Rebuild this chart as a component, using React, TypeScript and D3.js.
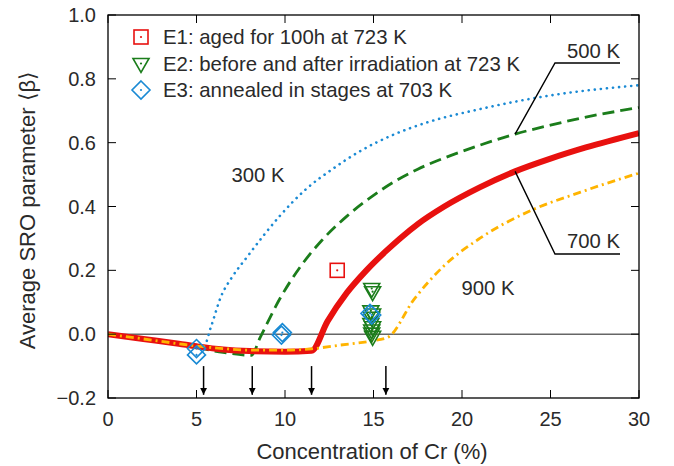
import React, { useEffect, useRef } from 'react'
import * as d3 from 'd3'

// curves: [Cr %, <beta>]
const curve300 = [[0, 0], [2, -0.014], [4, -0.03], [5.4, -0.04], [5.8, 0.02], [6.4, 0.12], [7, 0.178], [7.9, 0.245], [8.8, 0.31], [9.7, 0.37], [11.2, 0.455], [12.7, 0.518], [14.2, 0.572], [16, 0.622], [18, 0.663], [21, 0.705], [25, 0.748], [30, 0.78]]
const curve500 = [[0, 0], [2, -0.015], [4, -0.032], [5, -0.042], [6.5, -0.057], [8.1, -0.066], [8.6, -0.01], [9.7, 0.11], [10.85, 0.21], [12.1, 0.295], [13.5, 0.37], [15, 0.435], [16.3, 0.482], [17.5, 0.517], [19, 0.552], [21, 0.592], [23, 0.627], [25, 0.655], [27, 0.68], [30, 0.71]]
const curve700 = [[0, 0], [2, -0.015], [4, -0.03], [5, -0.038], [6.5, -0.048], [8, -0.053], [10, -0.055], [11.5, -0.052], [12.4, 0.04], [13.5, 0.13], [14.6, 0.2], [15.7, 0.26], [16.5, 0.3], [17.5, 0.345], [19, 0.4], [21, 0.46], [23, 0.51], [25, 0.55], [27, 0.585], [30, 0.63]]
const curve900 = [[0, 0], [2, -0.015], [4, -0.03], [5, -0.037], [6.5, -0.045], [8, -0.05], [10, -0.05], [11.5, -0.046], [13, -0.035], [14.8, -0.022], [15.8, -0.01], [17.3, 0.11], [19, 0.215], [21, 0.3], [24, 0.39], [26.7, 0.445], [30, 0.505]]

const e1 = [[12.95, 0.2]]
const e2 = [[14.9, 0.14], [14.95, 0.13], [14.85, 0.07], [14.95, 0.06], [14.9, 0.05], [14.85, 0.03], [14.95, 0.02], [14.9, 0.01], [14.9, 0.0], [14.95, -0.01]]
const e3 = [[5, -0.045], [5, -0.065], [9.8, -0.003], [9.85, 0.005], [14.8, 0.065], [14.9, 0.06]]

const arrowsX = [5.4, 8.15, 11.5, 15.7]
const xTicks = [0, 5, 10, 15, 20, 25, 30]
const yTicks = [-0.2, 0, 0.2, 0.4, 0.6, 0.8, 1.0]
const legendLabels = ['E1: aged for 100h at 723 K', 'E2: before and after irradiation at 723 K', 'E3: annealed in stages at 703 K']

const W = 674, H = 466
const m = { left: 108, right: 35, top: 15, bottom: 68 }
const font = 'Liberation Sans, Arial, Helvetica, sans-serif'
const ink = '#2a2a2a'

export default function App() {
  const ref = useRef<SVGSVGElement>(null)

  useEffect(() => {
    const svg = d3.select(ref.current)
    svg.selectAll('*').remove()

    const x = d3.scaleLinear().domain([0, 30]).range([m.left, W - m.right])
    const y = d3.scaleLinear().domain([-0.2, 1.0]).range([H - m.bottom, m.top])
    const x0 = x.range()[0], x1 = x.range()[1], y0 = y.range()[0], y1 = y.range()[1]

    const defs = svg.append('defs')
    defs.append('clipPath').attr('id', 'plot').append('rect')
      .attr('x', x0).attr('y', y1).attr('width', x1 - x0).attr('height', y0 - y1)
    defs.append('marker').attr('id', 'head').attr('viewBox', '0 0 10 10')
      .attr('refX', 10).attr('refY', 5).attr('markerWidth', 7).attr('markerHeight', 10)
      .attr('markerUnits', 'userSpaceOnUse').attr('orient', 'auto')
      .append('path').attr('d', 'M0,0L10,5L0,10Z').attr('fill', '#000')

    // zero line
    svg.append('line').attr('x1', x0).attr('x2', x1).attr('y1', y(0)).attr('y2', y(0))
      .attr('stroke', '#666').attr('stroke-width', 1.5)

    const line = d3.line<number[]>().x(d => x(d[0])).y(d => y(d[1])).curve(d3.curveMonotoneX)
    const g = svg.append('g').attr('clip-path', 'url(#plot)')

    g.append('path').datum(curve300).attr('d', line).attr('fill', 'none')
      .attr('stroke', '#1a8ad4').attr('stroke-width', 2.6).attr('stroke-dasharray', '0.1 6').attr('stroke-linecap', 'round')
    g.append('path').datum(curve500).attr('d', line).attr('fill', 'none')
      .attr('stroke', '#1b7d1b').attr('stroke-width', 2.8).attr('stroke-dasharray', '12 6')
    g.append('path').datum(curve700).attr('d', line).attr('fill', 'none')
      .attr('stroke', '#e8110f').attr('stroke-width', 6).attr('stroke-linejoin', 'round')
    g.append('path').datum(curve900).attr('d', line).attr('fill', 'none')
      .attr('stroke', '#ffb400').attr('stroke-width', 2.8).attr('stroke-dasharray', '8 4 2 4')

    // arrows
    arrowsX.forEach(v => {
      svg.append('line').attr('x1', x(v)).attr('x2', x(v)).attr('y1', y(-0.1)).attr('y2', y(-0.19))
        .attr('stroke', '#000').attr('stroke-width', 1.5).attr('marker-end', 'url(#head)')
    })

    // markers
    const drawSquare = (sel: any, cx: number, cy: number) => {
      sel.append('rect').attr('x', cx - 7).attr('y', cy - 7).attr('width', 14).attr('height', 14)
        .attr('fill', 'none').attr('stroke', '#e8110f').attr('stroke-width', 1.6)
      sel.append('circle').attr('cx', cx).attr('cy', cy).attr('r', 1.1).attr('fill', '#e8110f')
    }
    const drawTri = (sel: any, cx: number, cy: number) => {
      sel.append('path').attr('d', `M${cx - 8},${cy - 6}L${cx + 8},${cy - 6}L${cx},${cy + 8}Z`)
        .attr('fill', 'none').attr('stroke', '#1b7d1b').attr('stroke-width', 1.6)
      sel.append('circle').attr('cx', cx).attr('cy', cy - 1).attr('r', 1.1).attr('fill', '#1b7d1b')
    }
    const drawDia = (sel: any, cx: number, cy: number) => {
      sel.append('path').attr('d', `M${cx},${cy - 9}L${cx + 9},${cy}L${cx},${cy + 9}L${cx - 9},${cy}Z`)
        .attr('fill', 'none').attr('stroke', '#1a8ad4').attr('stroke-width', 1.6)
      sel.append('circle').attr('cx', cx).attr('cy', cy).attr('r', 1.1).attr('fill', '#1a8ad4')
    }
    e2.forEach(d => drawTri(svg, x(d[0]), y(d[1])))
    e3.forEach(d => drawDia(svg, x(d[0]), y(d[1])))
    e1.forEach(d => drawSquare(svg, x(d[0]), y(d[1])))

    // frame and ticks
    svg.append('rect').attr('x', x0).attr('y', y1).attr('width', x1 - x0).attr('height', y0 - y1)
      .attr('fill', 'none').attr('stroke', '#000').attr('stroke-width', 1.3)
    const tl = 8
    xTicks.forEach(t => {
      svg.append('line').attr('x1', x(t)).attr('x2', x(t)).attr('y1', y0).attr('y2', y0 - tl).attr('stroke', '#000')
      svg.append('line').attr('x1', x(t)).attr('x2', x(t)).attr('y1', y1).attr('y2', y1 + tl).attr('stroke', '#000')
      svg.append('text').attr('x', x(t)).attr('y', y0 + 28).attr('text-anchor', 'middle')
        .attr('font-family', font).attr('font-size', 20).attr('fill', ink).text(d3.format('d')(t))
    })
    yTicks.forEach(t => {
      svg.append('line').attr('x1', x0).attr('x2', x0 + tl).attr('y1', y(t)).attr('y2', y(t)).attr('stroke', '#000')
      svg.append('line').attr('x1', x1).attr('x2', x1 - tl).attr('y1', y(t)).attr('y2', y(t)).attr('stroke', '#000')
      svg.append('text').attr('x', x0 - 12).attr('y', y(t) + 7).attr('text-anchor', 'end')
        .attr('font-family', font).attr('font-size', 20).attr('fill', ink)
        .text(t < 0 ? '\u2212' + d3.format('.1f')(-t) : d3.format('.1f')(t))
    })

    svg.append('text').attr('x', 372).attr('y', 459).attr('text-anchor', 'middle')
      .attr('font-family', font).attr('font-size', 22).attr('fill', ink).text('Concentration of Cr (%)')
    svg.append('text').attr('transform', 'translate(35,210) rotate(-90)').attr('text-anchor', 'middle')
      .attr('font-family', font).attr('font-size', 22).attr('fill', ink).text('Average SRO parameter \u27e8\u03b2\u27e9')

    // legend
    const lg = svg.append('g')
    legendLabels.forEach((lab, i) => {
      const cy = 37 + i * 26.5
      if (i === 0) drawSquare(lg, 141, cy)
      if (i === 1) drawTri(lg, 141, cy + 1)
      if (i === 2) drawDia(lg, 141, cy)
      lg.append('text').attr('x', 163).attr('y', cy + 7).attr('font-family', font).attr('font-size', 20.4)
        .attr('fill', ink).text(lab)
    })

    // curve labels
    const label = (t: string, lx: number, ly: number, anchor = 'middle') =>
      svg.append('text').attr('x', lx).attr('y', ly).attr('text-anchor', anchor)
        .attr('font-family', font).attr('font-size', 20.3).attr('fill', ink).text(t)
    label('300 K', 258, 182)
    label('900 K', 488, 295)
    label('500 K', 620, 58, 'end')
    label('700 K', 620, 248, 'end')

    const leader = (lx: number, ly: number, px: number, py: number) =>
      svg.append('path').attr('d', `M${x(px)},${y(py)}L${lx},${ly}L620,${ly}`)
        .attr('fill', 'none').attr('stroke', '#000').attr('stroke-width', 1.4)
    leader(555, 63, 23, 0.627)
    leader(555, 254, 23, 0.51)
  }, [])

  return (
    <svg ref={ref} width={W} height={H} style={{ display: 'block', margin: '-8px 0 0 -8px' }} />
  )
}
